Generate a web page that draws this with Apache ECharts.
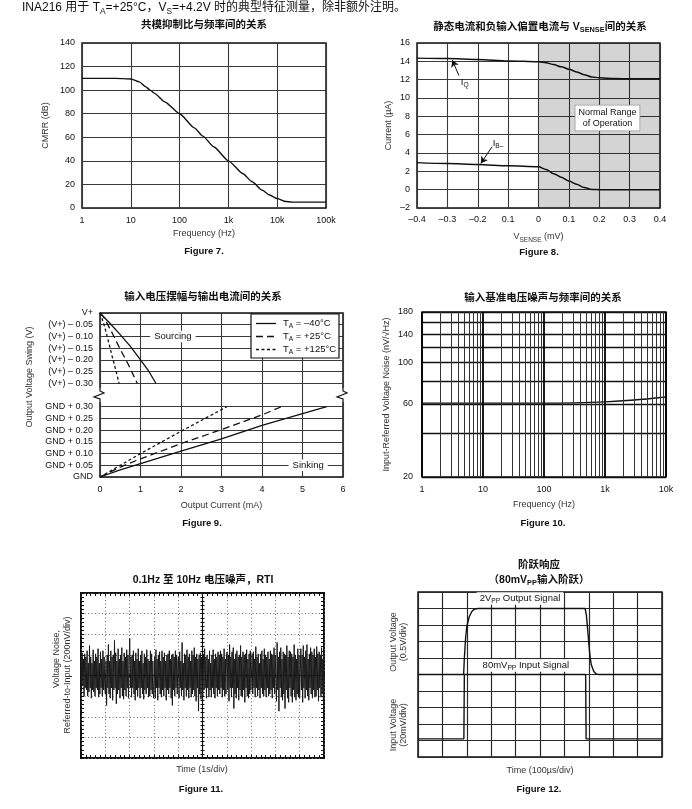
<!DOCTYPE html>
<html><head><meta charset="utf-8">
<script src="https://cdn.jsdelivr.net/npm/echarts@6/dist/echarts.min.js"></script>
<style>html,body{margin:0;padding:0;background:#fff}#c{width:692px;height:809px}</style>
</head><body><div id="c"></div>
<script>
// ================= DATA =================
// Figure 7: CMRR vs frequency
const F7_FREQ = [1, 5, 10, 15, 20, 25, 30, 50, 100, 200, 300, 500, 1000, 2000, 3000, 5000, 7000, 10000, 15000, 20000, 50000, 100000];
const F7_CMRR = [110, 110, 109.5, 107, 103, 100, 97.5, 90, 80, 68, 61, 52, 40, 29, 22.5, 15, 11, 8, 5.5, 5, 5, 5];
const F7_XTICK_LABELS = ['1', '10', '100', '1k', '10k', '100k'];

// Figure 8: IQ and IB- vs VSENSE
const F8_V  = [-0.4, -0.3, -0.2, -0.1, 0, 0.025, 0.05, 0.075, 0.1, 0.125, 0.15, 0.175, 0.2, 0.25, 0.3, 0.4];
const F8_IQ = [14.35, 14.3, 14.2, 14.05, 13.95, 13.85, 13.65, 13.4, 13.15, 12.85, 12.55, 12.3, 12.2, 12.12, 12.1, 12.1];
const F8_IB = [2.95, 2.85, 2.75, 2.6, 2.5, 2.2, 1.75, 1.35, 0.95, 0.6, 0.25, 0.03, 0, 0, 0, 0];
const F8_XTICK_LABELS = ['\u20130.4', '\u20130.3', '\u20130.2', '0.1', '0', '0.1', '0.2', '0.3', '0.4'];
const F8_IQ_ARROW = [[-0.262, 12.45], [-0.284, 14.15]];
const F8_IB_ARROW = [[-0.153, 4.68], [-0.19, 2.85]];

// Figure 9: output swing vs output current (y in 0.05 V steps; 0 = GND, 14 = V+)
const F9_TEMPS = ['\u201340\u00b0C', '+25\u00b0C', '+125\u00b0C'];
const F9_SRC_X = [[0, 0.25, 0.5, 0.75, 1.0, 1.2, 1.38], [0, 0.1, 0.3, 0.5, 0.7, 0.92], [0, 0.1, 0.2, 0.3, 0.4, 0.47]];
const F9_SRC_Y = [[14, 13.1, 12.15, 11.15, 10.0, 9.05, 8.0], [14, 13.6, 12.3, 10.9, 9.6, 8.0], [14, 13.0, 11.7, 10.3, 9.0, 8.0]];
const F9_SNK_X = [[0, 0.5, 1, 2, 3, 4, 5, 5.6], [0, 0.5, 1, 2, 3, 4, 4.48], [0, 0.5, 1, 2, 3, 3.13]];
const F9_SNK_Y = [[0, 0.6, 1.15, 2.2, 3.25, 4.4, 5.4, 6], [0, 0.85, 1.55, 2.85, 4.05, 5.3, 6], [0, 1.0, 2.0, 3.9, 5.75, 6]];
const F9_YTICKS = [0, 1, 2, 3, 4, 5, 6, 8, 9, 10, 11, 12, 13, 14];
const F9_YLABELS = ['GND', 'GND + 0.05', 'GND + 0.10', 'GND + 0.15', 'GND + 0.20', 'GND + 0.25', 'GND + 0.30',
  '(V+) \u2013 0.30', '(V+) \u2013 0.25', '(V+) \u2013 0.20', '(V+) \u2013 0.15', '(V+) \u2013 0.10', '(V+) \u2013 0.05', 'V+'];

// Figure 10: input-referred noise vs frequency
const F10_FREQ  = [1, 10, 100, 300, 1000, 3000, 10000];
const F10_NOISE = [60.5, 60.5, 60.5, 60.7, 61.5, 63, 65.5];
const F10_XTICK_LABELS = ['1', '10', '100', '1k', '10k'];
const F10_MINOR = [2, 3, 4, 5, 6, 7, 8, 9, 20, 30, 40, 50, 60, 70, 80, 90, 200, 300, 400, 500, 600, 700, 800, 900,
  2000, 3000, 4000, 5000, 6000, 7000, 8000, 9000];
const F10_YGRID = [20, 40, 60, 80, 100, 120, 140, 160, 180];
const F10_YLABELS = [20, 60, 100, 140, 180];

// Figure 11: 0.1Hz-10Hz noise, in divisions (10 s span)
const F11_NOISE = [
  0.7,-0.6,1.1,-0.5,0.8,-1.0,1.05,-0.6,0.9,-0.7,1.2,-1.0,0.6,-0.8,1.45,-0.6,0.9,-1.1,0.6,-0.7,1.25,-0.8,0.7,-1.0,1.05,-0.6,0.9,-0.7,1.3,-1.05,0.6,-0.9,1.15,-0.6,0.8,-1.0,1.2,-0.7,0.9,-0.6,
  -0.9,0.7,-1.45,1.0,-0.6,1.5,-0.9,0.7,-1.1,1.2,-0.6,0.9,-1.2,1.0,-0.7,1.7,-0.6,1.1,-1.37,0.7,-0.9,1.3,-0.7,0.8,-1.1,1.0,-0.6,1.35,-1.0,0.7,-1.15,1.1,-0.7,0.9,-1.0,1.25,-0.6,1.0,-1.1,0.7,
  1.8,-0.6,0.9,-1.05,1.0,-0.6,1.2,-0.9,0.7,-1.2,1.1,-0.7,0.8,-1.0,1.3,-0.6,0.7,-1.1,1.0,-0.6,1.2,-0.9,0.6,-1.15,1.05,-0.7,0.9,-0.9,1.25,-0.6,0.8,-1.05,0.7,-1.0,1.2,-0.7,1.05,-0.9,0.7,-1.1,
  -0.7,0.9,-1.1,1.25,-0.6,0.8,-1.2,1.0,-0.6,1.15,-0.9,0.7,-1.05,1.2,-0.7,0.9,-1.0,1.1,-0.6,0.7,-1.2,1.0,-0.7,1.05,-0.9,1.2,-0.6,0.8,-1.1,1.0,-1.45,1.05,-0.7,0.9,-1.0,1.2,-0.6,1.0,-0.9,0.7,
  0.9,-1.1,1.15,-0.6,0.7,-1.0,1.6,-0.7,0.6,-1.2,1.05,-0.6,1.0,-1.0,1.25,-0.7,0.9,-1.1,1.05,-0.6,0.7,-1.05,1.2,-0.9,1.0,-0.7,1.35,-1.0,0.9,-1.25,1.05,-0.6,0.8,-1.73,1.0,-0.9,1.1,-1.15,0.9,-0.7,
  -1.0,1.05,-0.7,1.3,-0.6,0.9,-1.1,1.0,-0.6,0.8,-1.05,1.2,-0.7,0.6,-1.05,1.0,-0.6,1.25,-0.9,0.8,-1.1,1.05,-0.6,0.9,-1.0,1.15,-0.7,1.0,-0.9,1.2,-0.6,1.05,-1.05,0.9,-0.7,1.3,-1.0,0.8,-0.9,1.05,
  1.15,-0.7,1.0,-1.25,1.5,-0.6,0.9,-1.05,1.15,-0.6,1.35,-1.6,0.8,-0.9,1.05,-1.1,1.2,-0.6,0.9,-1.2,1.0,-0.7,1.45,-1.0,0.9,-1.05,1.15,-0.7,1.0,-1.3,1.05,-0.6,1.25,-1.0,0.8,-1.1,1.05,-0.9,1.2,-0.7,
  -0.7,1.05,-0.9,1.15,-0.6,0.8,-1.05,1.4,-0.6,0.9,-1.0,1.05,-0.7,0.6,-1.1,1.05,-0.6,1.2,-0.9,0.8,-1.0,1.3,-0.7,1.0,-1.05,0.9,-0.6,1.15,-1.0,0.8,-0.9,1.2,-0.7,1.05,-1.1,1.0,-0.6,1.35,-0.9,1.0,
  1.0,-1.25,1.6,-0.7,0.9,-1.73,1.15,-0.6,1.35,-1.05,0.8,-1.2,1.15,-0.9,1.05,-1.6,1.0,-0.7,1.45,-1.1,0.9,-1.3,1.2,-0.6,1.15,-1.0,1.05,-1.3,0.9,-0.7,1.5,-1.05,1.0,-1.2,0.8,-0.9,1.3,-1.05,1.0,-1.1,
  -1.05,1.3,-0.7,1.0,-1.3,1.45,-0.6,0.9,-1.1,1.2,-0.7,1.5,-1.0,0.8,-1.2,1.05,-0.6,1.35,-0.9,1.15,-1.1,1.0,-0.7,1.3,-1.05,0.9,-1.0,1.4,-0.7,1.05,-1.25,1.15,-0.6,1.0,-1.05,1.35,-0.9,0.8,-1.2,1.05
];
const F11_SPAN = 10; // seconds (1 s/div x 10 div)

// Figure 12: step response, in divisions
const F12_OUT_T = [0, 1.87, 1.9, 1.95, 2.0, 2.1, 2.2, 2.3, 2.45, 6.85, 6.9, 6.95, 7.0, 7.05, 7.1, 7.2, 7.3, 7.4, 10];
const F12_OUT_V = [5, 5, 6.0, 7.2, 7.9, 8.5, 8.8, 8.95, 9, 9, 8.6, 7.8, 6.9, 6.1, 5.6, 5.2, 5.03, 5, 5];
const F12_IN_T = [0, 1.88, 1.9, 6.87, 6.89, 10];
const F12_IN_V = [1.1, 1.1, 5, 5, 1.1, 1.1];

// ================= CHART =================
const FONT = "'Liberation Sans', Arial, 'Noto Sans CJK SC', sans-serif";
const INK = '#111';
const GRIDC = '#3a3a3a';
const yT = v => Math.log10(v + 15); // Figure 10 vertical scale

const chart = echarts.init(document.getElementById('c'), null, {renderer: 'canvas'});

function tickLab(o) { return Object.assign({color: INK, fontSize: 9, fontFamily: FONT}, o || {}); }
const nameStyle = {color: '#333', fontSize: 9, fontFamily: FONT};
const subRich = {
  n: {fontSize: 9, fontFamily: FONT, color: '#333', lineHeight: 12},
  s: {fontSize: 6.5, fontFamily: FONT, color: '#333', lineHeight: 7, verticalAlign: 'bottom'}
};
const split = {show: true, lineStyle: {color: GRIDC, width: 1.1}};
const gridBase = {show: true, borderColor: INK, borderWidth: 1.5, backgroundColor: '#fff', containLabel: false};

function f11x(pos, extra) {
  return Object.assign({
    gridIndex: 4, type: 'value', min: -5, max: 5, interval: 1, position: pos,
    axisLine: {show: false, onZero: false},
    axisTick: {show: true, inside: true, length: 3, lineStyle: {color: INK}},
    minorTick: {show: true, splitNumber: 5, length: 3, lineStyle: {color: INK}},
    axisLabel: {show: false}, splitLine: {show: false}
  }, extra || {});
}
function f11y(pos, extra) {
  return Object.assign({
    gridIndex: 4, type: 'value', min: -4, max: 4, interval: 1, position: pos,
    axisLine: {show: false, onZero: false},
    axisTick: {show: true, inside: true, length: 3, lineStyle: {color: INK}},
    minorTick: {show: true, splitNumber: 5, length: 3, lineStyle: {color: INK}},
    axisLabel: {show: false}, splitLine: {show: false}
  }, extra || {});
}
const dotted = {show: true, lineStyle: {color: '#666', width: 1, type: [1, 2.5]}};

const option = {
  animation: false,
  backgroundColor: '#fff',
  textStyle: {fontFamily: FONT},
  grid: [
    Object.assign({left: 82, top: 43, width: 244, height: 165}, gridBase),
    Object.assign({left: 417, top: 43, width: 243, height: 165}, gridBase),
    Object.assign({left: 100, top: 313, width: 243, height: 164}, gridBase),
    Object.assign({left: 422, top: 312, width: 244, height: 165}, gridBase),
    Object.assign({}, gridBase, {left: 81, top: 593, width: 243, height: 165, borderWidth: 2}),
    Object.assign({left: 418, top: 592, width: 244, height: 165}, gridBase)
  ],
  xAxis: [
    { // 0 Fig7
      gridIndex: 0, type: 'log', logBase: 10, min: 1, max: 100000,
      axisLine: {show: false, onZero: false}, axisTick: {show: false}, splitLine: split,
      axisLabel: tickLab({margin: 8, formatter: v => F7_XTICK_LABELS[Math.round(Math.log10(v))]}),
      name: 'Frequency (Hz)', nameLocation: 'middle', nameGap: 21, nameTextStyle: nameStyle
    },
    { // 1 Fig8
      gridIndex: 1, type: 'value', min: -0.4, max: 0.4, interval: 0.1,
      axisLine: {show: false, onZero: false}, axisTick: {show: false}, splitLine: split,
      axisLabel: tickLab({margin: 7, formatter: v => F8_XTICK_LABELS[Math.round((v + 0.4) * 10)]}),
      name: '{n|V}{s|SENSE}{n| (mV)}', nameLocation: 'middle', nameGap: 23, nameTextStyle: {rich: subRich}
    },
    { // 2 Fig9
      gridIndex: 2, type: 'value', min: 0, max: 6, interval: 1,
      axisLine: {show: false, onZero: false}, axisTick: {show: false}, splitLine: split,
      axisLabel: tickLab({margin: 8}),
      name: 'Output Current (mA)', nameLocation: 'middle', nameGap: 24, nameTextStyle: nameStyle
    },
    { // 3 Fig10
      gridIndex: 3, type: 'log', logBase: 10, min: 1, max: 10000,
      axisLine: {show: false, onZero: false}, axisTick: {show: false},
      splitLine: {show: true, lineStyle: {color: '#000', width: 1.8}},
      axisLabel: tickLab({margin: 8, formatter: v => F10_XTICK_LABELS[Math.round(Math.log10(v))]}),
      name: 'Frequency (Hz)', nameLocation: 'middle', nameGap: 23, nameTextStyle: nameStyle
    },
    f11x('bottom', {splitLine: dotted}), // 4
    f11x('top'),                         // 5
    f11x('bottom', {axisLine: {show: true, onZero: true, onZeroAxisIndex: 4, lineStyle: {color: INK, width: 1.2}},
      axisTick: {show: true, inside: true, length: 2, lineStyle: {color: INK}},
      minorTick: {show: true, splitNumber: 5, length: 2, lineStyle: {color: INK}}}), // 6
    f11x('bottom', {axisLine: {show: false, onZero: true, onZeroAxisIndex: 5},
      axisTick: {show: true, inside: false, length: 2, lineStyle: {color: INK}},
      minorTick: {show: true, splitNumber: 5, length: 2, lineStyle: {color: INK}}}), // 7
    { // 8 Fig12
      gridIndex: 5, type: 'value', min: 0, max: 10, interval: 1,
      axisLine: {show: false, onZero: false}, axisTick: {show: false}, axisLabel: {show: false},
      splitLine: {show: true, lineStyle: {color: '#2a2a2a', width: 1.2}}
    }
  ],
  yAxis: [
    { // 0 Fig7
      gridIndex: 0, type: 'value', min: 0, max: 140, interval: 20,
      axisLine: {show: false, onZero: false}, axisTick: {show: false}, splitLine: split,
      axisLabel: tickLab({margin: 7}),
      name: 'CMRR (dB)', nameLocation: 'middle', nameGap: 32, nameTextStyle: nameStyle
    },
    { // 1 Fig8
      gridIndex: 1, type: 'value', min: -2, max: 16, interval: 2,
      axisLine: {show: false, onZero: false}, axisTick: {show: false}, splitLine: split,
      axisLabel: tickLab({margin: 7, formatter: v => v < 0 ? '\u2013' + Math.abs(v) : String(v)}),
      name: 'Current (\u00b5A)', nameLocation: 'middle', nameGap: 24, nameTextStyle: nameStyle
    },
    { // 2 Fig9
      gridIndex: 2, type: 'value', min: 0, max: 14, interval: 1,
      axisLine: {show: false, onZero: false},
      axisTick: {show: false, customValues: F9_YTICKS}, splitLine: split,
      axisLabel: tickLab({margin: 7, customValues: F9_YTICKS, formatter: v => F9_YLABELS[F9_YTICKS.indexOf(Math.round(v))]})
    },
    { // 3 Fig10
      gridIndex: 3, type: 'value', min: yT(20), max: yT(180),
      axisLine: {show: false, onZero: false},
      axisTick: {show: false, customValues: F10_YGRID.map(yT)},
      splitLine: {show: true, lineStyle: {color: '#111', width: 1.3}},
      axisLabel: tickLab({margin: 9, customValues: F10_YLABELS.map(yT), formatter: v => String(Math.round(Math.pow(10, v) - 15))}),
      name: 'Input-Referred Voltage Noise (nV/\u221aHz)', nameLocation: 'middle', nameGap: 31, nameTextStyle: nameStyle
    },
    f11y('left', {splitLine: dotted}), // 4
    f11y('right'),                     // 5
    f11y('left', {axisLine: {show: true, onZero: true, onZeroAxisIndex: 4, lineStyle: {color: INK, width: 1.2}},
      axisTick: {show: true, inside: true, length: 2, lineStyle: {color: INK}},
      minorTick: {show: true, splitNumber: 5, length: 2, lineStyle: {color: INK}}}), // 6
    f11y('left', {axisLine: {show: false, onZero: true, onZeroAxisIndex: 5},
      axisTick: {show: true, inside: false, length: 2, lineStyle: {color: INK}},
      minorTick: {show: true, splitNumber: 5, length: 2, lineStyle: {color: INK}}}), // 7
    { // 8 Fig12
      gridIndex: 5, type: 'value', min: 0, max: 10, interval: 1,
      axisLine: {show: false, onZero: false}, axisTick: {show: false}, axisLabel: {show: false},
      splitLine: {show: true, lineStyle: {color: '#2a2a2a', width: 1.2}}
    }
  ],
  series: []
};

const lineBase = {type: 'line', symbol: 'none', showSymbol: false, silent: true, itemStyle: {color: INK}};
const ls = (w, t) => ({color: INK, width: w, type: t || 'solid'});

option.series.push(Object.assign({}, lineBase, {
  name: 'CMRR', xAxisIndex: 0, yAxisIndex: 0, smooth: 0.2, smoothMonotone: 'x',
  lineStyle: ls(1.4), data: F7_FREQ.map((f, i) => [f, F7_CMRR[i]])
}));
option.series.push(Object.assign({}, lineBase, {
  name: 'IQ', xAxisIndex: 1, yAxisIndex: 1, smooth: 0.3, smoothMonotone: 'x',
  lineStyle: ls(1.5), data: F8_V.map((v, i) => [v, F8_IQ[i]]),
  markArea: {silent: true, itemStyle: {color: 'rgba(0,0,0,0.17)'}, data: [[{xAxis: 0}, {xAxis: 0.4}]]},
  markLine: {silent: true, symbol: ['none', 'arrow'], symbolSize: [6, 7], label: {show: false},
    lineStyle: {color: INK, width: 1, type: 'solid'},
    data: [[{coord: F8_IQ_ARROW[0]}, {coord: F8_IQ_ARROW[1]}]]}
}));
option.series.push(Object.assign({}, lineBase, {
  name: 'IB', xAxisIndex: 1, yAxisIndex: 1, smooth: 0.3, smoothMonotone: 'x',
  lineStyle: ls(1.5), data: F8_V.map((v, i) => [v, F8_IB[i]]),
  markLine: {silent: true, symbol: ['none', 'arrow'], symbolSize: [6, 7], label: {show: false},
    lineStyle: {color: INK, width: 1, type: 'solid'},
    data: [[{coord: F8_IB_ARROW[0]}, {coord: F8_IB_ARROW[1]}]]}
}));
const F9_DASH = ['solid', [7, 4], [3, 2.5]];
F9_TEMPS.forEach((t, k) => {
  option.series.push(Object.assign({}, lineBase, {
    name: t, xAxisIndex: 2, yAxisIndex: 2, lineStyle: ls(1.3, F9_DASH[k]),
    data: F9_SRC_X[k].map((x, i) => [x, F9_SRC_Y[k][i]])
  }));
});
F9_TEMPS.forEach((t, k) => {
  option.series.push(Object.assign({}, lineBase, {
    name: t, xAxisIndex: 2, yAxisIndex: 2, lineStyle: ls(1.3, F9_DASH[k]),
    data: F9_SNK_X[k].map((x, i) => [x, F9_SNK_Y[k][i]])
  }));
});
option.series.push(Object.assign({}, lineBase, {
  name: 'Noise', xAxisIndex: 3, yAxisIndex: 3, smooth: 0.3, lineStyle: ls(1.3),
  data: F10_FREQ.map((f, i) => [f, yT(F10_NOISE[i])]),
  markLine: {silent: true, symbol: 'none', label: {show: false}, lineStyle: {color: '#333', width: 1, type: 'solid'},
    data: F10_MINOR.map(v => ({xAxis: v}))}
}));
option.series.push(Object.assign({}, lineBase, {
  name: 'RTI', xAxisIndex: 4, yAxisIndex: 4, lineStyle: {color: '#1a1a1a', width: 1},
  data: F11_NOISE.map((v, i) => [-5 + i * F11_SPAN / (F11_NOISE.length - 1), v])
}));
option.series.push(Object.assign({}, lineBase, {
  name: 'Out', xAxisIndex: 8, yAxisIndex: 8, lineStyle: ls(1.4),
  data: F12_OUT_T.map((t, i) => [t, F12_OUT_V[i]])
}));
option.series.push(Object.assign({}, lineBase, {
  name: 'In', xAxisIndex: 8, yAxisIndex: 8, lineStyle: ls(1.4),
  data: F12_IN_T.map((t, i) => [t, F12_IN_V[i]])
}));

chart.setOption(option);

// ================= TEXT / ANNOTATIONS =================
function txt(x, y, text, o) {
  o = o || {};
  const st = Object.assign({
    text: text, fill: o.color || INK,
    font: (o.bold ? 'bold ' : '') + (o.size || 9) + 'px ' + FONT,
    textAlign: o.align || 'center', align: o.align || 'center',
    textVerticalAlign: 'middle', verticalAlign: 'middle'
  }, o.extra || {});
  return {type: 'text', x: x, y: y, rotation: o.rot || 0, z: 100, silent: true, style: st};
}
function rich(size, bold, color) {
  const w = bold ? 'bold' : 'normal';
  color = color || INK;
  return {
    t: {fontSize: size, fontFamily: FONT, fontWeight: w, fill: color, color: color, lineHeight: size + 3},
    s: {fontSize: size * 0.7, fontFamily: FONT, fontWeight: w, fill: color, color: color, lineHeight: size * 0.75, verticalAlign: 'bottom'}
  };
}
const px = (g, p) => chart.convertToPixel({gridIndex: g}, p);

const G = [];
// header
G.push(txt(22, 8, '{t|INA216 \u7528\u4e8e T}{s|A}{t|=+25\u00b0C\uff0cV}{s|S}{t|=+4.2V \u65f6\u7684\u5178\u578b\u7279\u5f81\u6d4b\u91cf\uff0c\u9664\u975e\u989d\u5916\u6ce8\u660e\u3002}',
  {align: 'left', extra: {rich: rich(12, false)}}));
// figure titles
G.push(txt(204, 25, '\u5171\u6a21\u6291\u5236\u6bd4\u4e0e\u9891\u7387\u95f4\u7684\u5173\u7cfb', {bold: true, size: 10.5}));
G.push(txt(540, 27, '{t|\u9759\u6001\u7535\u6d41\u548c\u8d1f\u8f93\u5165\u504f\u7f6e\u7535\u6d41\u4e0e V}{s|SENSE}{t|\u95f4\u7684\u5173\u7cfb}', {extra: {rich: rich(10.5, true)}}));
G.push(txt(203, 297, '\u8f93\u5165\u7535\u538b\u6446\u5e45\u4e0e\u8f93\u51fa\u7535\u6d41\u95f4\u7684\u5173\u7cfb', {bold: true, size: 10.5}));
G.push(txt(543, 298, '\u8f93\u5165\u57fa\u51c6\u7535\u538b\u566a\u58f0\u4e0e\u9891\u7387\u95f4\u7684\u5173\u7cfb', {bold: true, size: 10.5}));
G.push(txt(203, 580, '0.1Hz \u81f3 10Hz \u7535\u538b\u566a\u58f0\uff0cRTI', {bold: true, size: 10.5}));
G.push(txt(539, 565, '\u9636\u8dc3\u54cd\u5e94', {bold: true, size: 10.5}));
G.push(txt(539, 580, '{t|\uff0880mV}{s|PP}{t|\u8f93\u5165\u9636\u8dc3\uff09}', {extra: {rich: rich(10.5, true)}}));
// figure captions
G.push(txt(204, 251, 'Figure 7.', {bold: true, size: 9.5}));
G.push(txt(539, 252, 'Figure 8.', {bold: true, size: 9.5}));
G.push(txt(202, 523, 'Figure 9.', {bold: true, size: 9.5}));
G.push(txt(543, 523, 'Figure 10.', {bold: true, size: 9.5}));
G.push(txt(201, 789, 'Figure 11.', {bold: true, size: 9.5}));
G.push(txt(539, 789, 'Figure 12.', {bold: true, size: 9.5}));
// axis names drawn as free text
G.push(txt(30, 377, 'Output Voltage Swing (V)', {rot: Math.PI / 2, color: '#333'}));
G.push(txt(202, 770, 'Time (1s/div)', {color: '#333'}));
G.push(txt(57, 659, 'Voltage Noise,', {rot: Math.PI / 2, color: '#333'}));
G.push(txt(68, 675, 'Referred-to-Input (200nV/div)', {rot: Math.PI / 2, color: '#333'}));
G.push(txt(540, 771, 'Time (100\u00b5s/div)', {color: '#333'}));
G.push(txt(394, 642, 'Output Voltage', {rot: Math.PI / 2, color: '#333'}));
G.push(txt(404, 642, '(0.5V/div)', {rot: Math.PI / 2, color: '#333'}));
G.push(txt(394, 725, 'Input Voltage', {rot: Math.PI / 2, color: '#333'}));
G.push(txt(404, 725, '(20mV/div)', {rot: Math.PI / 2, color: '#333'}));

// Fig 8 annotations
let p = px(1, [-0.243, 11.75]);
G.push(txt(p[0], p[1], '{t|I}{s|Q}', {extra: {rich: rich(9.5, false)}}));
p = px(1, [-0.133, 5.05]);
G.push(txt(p[0], p[1], '{t|I}{s|B\u2013}', {extra: {rich: rich(9.5, false)}}));
p = px(1, [0.227, 7.82]);
G.push(txt(p[0], p[1], 'Normal Range\nof Operation', {size: 9, extra: {lineHeight: 11, backgroundColor: '#fff', borderColor: '#999', borderWidth: 0.8, padding: [2, 3, 1, 3]}}));
// Fig 9 annotations
p = px(2, [1.8, 12]);
G.push(txt(p[0], p[1], 'Sourcing', {size: 9.5, extra: {backgroundColor: '#fff', padding: [1, 4]}}));
p = px(2, [5.14, 1]);
G.push(txt(p[0], p[1], 'Sinking', {size: 9.5, extra: {backgroundColor: '#fff', padding: [1, 4]}}));
// Fig 9 legend box
G.push({type: 'rect', z: 99, silent: true, shape: {x: 251, y: 314, width: 88, height: 44}, style: {fill: '#fff', stroke: INK, lineWidth: 1.2}});
F9_TEMPS.forEach((t, k) => {
  const yy = 323.5 + k * 13;
  G.push({type: 'line', z: 100, silent: true, shape: {x1: 256, y1: yy, x2: 276, y2: yy},
    style: {stroke: INK, lineWidth: 1.3, lineDash: k === 0 ? null : F9_DASH[k]}});
  G.push(txt(283, yy, '{t|T}{s|A}{t| = ' + t + '}', {align: 'left', extra: {rich: rich(9.5, false)}}));
});
// Fig 9 axis break marks
const yc = px(2, [0, 7])[1];
[px(2, [0, 7])[0], px(2, [6, 7])[0]].forEach(bx => {
  G.push({type: 'rect', z: 99, silent: true, shape: {x: bx - 3, y: yc - 7, width: 6, height: 14}, style: {fill: '#fff'}});
  G.push({type: 'polyline', z: 100, silent: true,
    shape: {points: [[bx, yc - 7], [bx, yc - 4], [bx + 4, yc - 2], [bx - 6, yc + 2], [bx, yc + 4], [bx, yc + 7]]},
    style: {stroke: INK, lineWidth: 1.2, fill: null}});
});
// Fig 12 annotations
p = px(5, [4.18, 9.6]);
G.push(txt(p[0], p[1], '{t|2V}{s|PP}{t| Output Signal}', {extra: {rich: rich(9.5, false), backgroundColor: '#fff', padding: [0, 3]}}));
p = px(5, [4.42, 5.55]);
G.push(txt(p[0], p[1], '{t|80mV}{s|PP}{t| Input Signal}', {extra: {rich: rich(9.5, false), backgroundColor: '#fff', padding: [0, 3]}}));

chart.setOption({graphic: {elements: G}});
</script>
</body></html>
